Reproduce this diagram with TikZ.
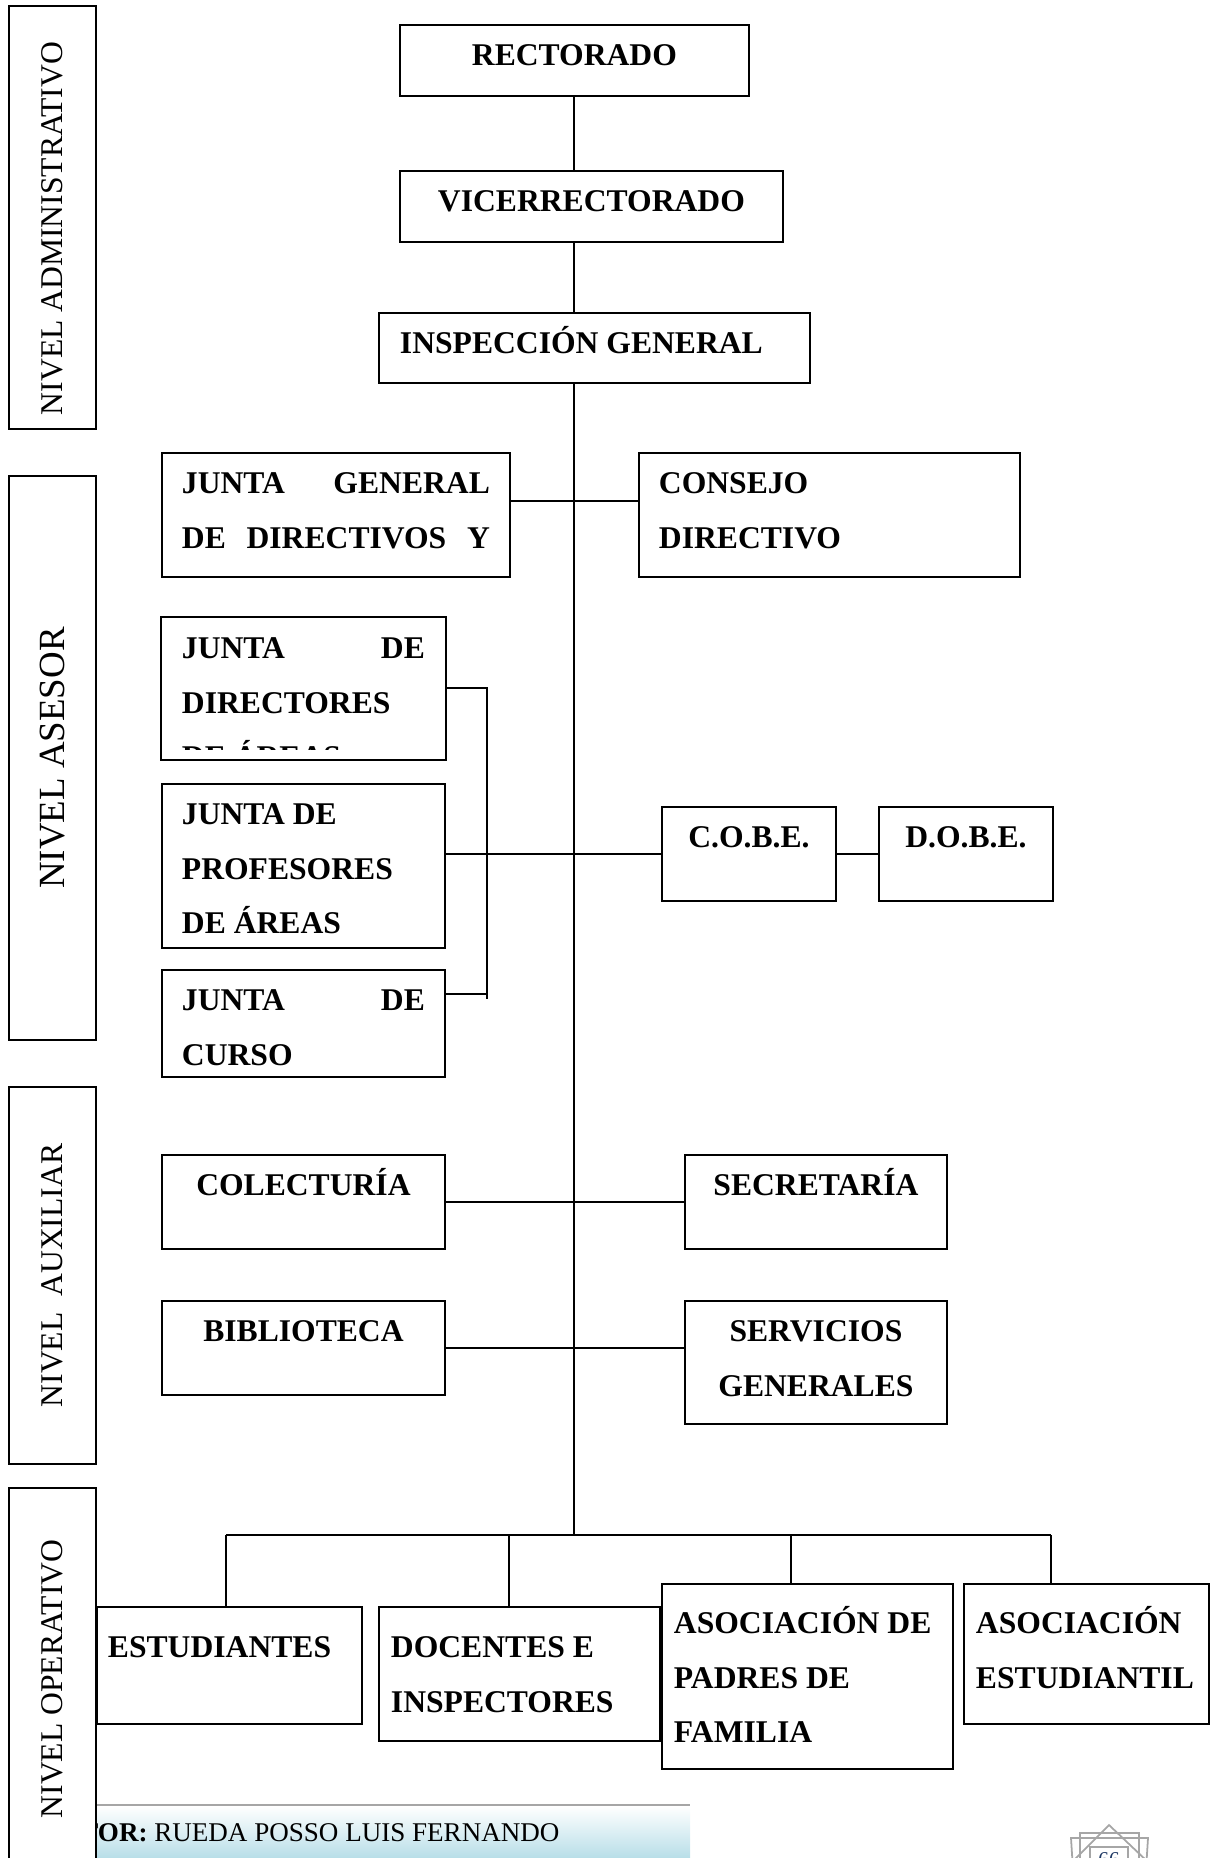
\documentclass[tikz,border=0pt]{standalone}
\usepackage{fontspec}
\setmainfont{Liberation Serif}
\definecolor{footblue}{RGB}{184,222,232}
\definecolor{pagegray}{RGB}{166,166,166}
\definecolor{pageblue}{RGB}{31,56,100}
\newcommand{\boxtext}[4][0.82cm]{\parbox[t][#3][t]{#2}{\raggedright\rule{0pt}{#1}#4}}

\begin{document}
\begin{tikzpicture}[x=0.02cm, y=-0.02cm,
  orgbox/.style={draw, line width=1.1pt, anchor=north west, inner xsep=0.4cm, inner ysep=0pt,
    font=\bfseries\fontsize{18}{31}\selectfont},
  level/.style={draw, fill=white, line width=1.1pt, rotate=90, minimum height=1.74cm,
    inner sep=0pt, font=\fontsize{18}{22}\selectfont},
  link/.style={line width=1.1pt}]
\useasboundingbox (0,0) rectangle (1213,1858);

% Footer
\shade[top color=white, bottom color=footblue] (96,1806) rectangle (690,1858);
\draw[pagegray, line width=1.2pt] (96,1805) -- (690,1805);
\node[anchor=base west, inner sep=0pt, font=\fontsize{15.4}{18}\selectfont] (autor) at (41,1841)
  {\textbf{AUTOR:} RUEDA POSSO LUIS FERNANDO};

% Page number
\draw[pagegray, line width=1pt] (1072,1862) -- (1109,1825) -- (1148,1862);
\draw[pagegray, line width=1pt] (1080,1870) -- (1080,1833) -- (1139,1833) -- (1139,1870);
\draw[pagegray, line width=1pt] (1073,1870) -- (1071,1838) -- (1148,1838) -- (1146,1870);
\draw[pagegray, line width=1pt] (1090,1870) -- (1090,1847) -- (1128,1847) -- (1128,1870);
\node[anchor=base, inner sep=0pt, text=pageblue, font=\fontsize{12}{14}\selectfont] (pagenum) at (1109,1866) {66};

% Levels
\node[level, minimum width=8.46cm] (nadm) at (52.5,217.5) {NIVEL ADMINISTRATIVO\hspace*{0.44cm}};
\node[level, minimum width=11.28cm, font=\fontsize{21}{25}\selectfont] (nase) at (52.5,758) {NIVEL ASESOR};
\node[level, minimum width=7.54cm] (naux) at (52.5,1275.5) {NIVEL~~AUXILIAR};
\node[level, minimum width=7.64cm] (nope) at (52.5,1679) {NIVEL OPERATIVO};

% Administrative
\node[orgbox, inner xsep=0pt] (rect) at (399,24) {\boxtext{6.98cm}{1.42cm}{\centering RECTORADO}};
\node[orgbox, inner xsep=0pt] (vice) at (399,170) {\boxtext{7.66cm}{1.42cm}{\centering VICERRECTORADO}};
\node[orgbox, inner xsep=0.42cm] (insp) at (378,312) {\boxtext{7.78cm}{1.40cm}{INSPECCIÓN GENERAL}};

% Advisory
\node[orgbox] (jgen) at (161,452) {\boxtext{6.16cm}{2.48cm}{JUNTA\hfill GENERAL\\ DE\hfill DIRECTIVOS\hfill Y}};
\node[orgbox] (cons) at (638,452) {\boxtext{6.82cm}{2.48cm}{CONSEJO\\ DIRECTIVO}};
\begin{scope}
  \clip (161,617) rectangle (444,749);
  \node[orgbox, draw=none] (jdir) at (161,617) {\boxtext{4.86cm}{2.82cm}{JUNTA\hfill DE\\ DIRECTORES\\ DE~ÁREAS}};
\end{scope}
\draw[line width=1.1pt] (jdir.north west) rectangle (jdir.south east);
\node[orgbox] (jprof) at (161,783) {\boxtext{4.86cm}{3.28cm}{JUNTA~DE\\ PROFESORES\\ DE~ÁREAS}};
\node[orgbox] (jcur) at (161,969) {\boxtext{4.86cm}{2.14cm}{JUNTA\hfill DE\\ CURSO}};
\node[orgbox, inner xsep=0pt] (cobe) at (661,806) {\boxtext{3.48cm}{1.88cm}{\centering C.O.B.E.}};
\node[orgbox, inner xsep=0pt] (dobe) at (878,806) {\boxtext{3.48cm}{1.88cm}{\centering D.O.B.E.}};

% Auxiliary
\node[orgbox, inner xsep=0pt] (colec) at (161,1154) {\boxtext{5.66cm}{1.88cm}{\centering COLECTURÍA}};
\node[orgbox, inner xsep=0pt] (secr) at (684,1154) {\boxtext{5.24cm}{1.88cm}{\centering SECRETARÍA}};
\node[orgbox, inner xsep=0pt] (bibl) at (161,1300) {\boxtext{5.66cm}{1.88cm}{\centering BIBLIOTECA}};
\node[orgbox, inner xsep=0pt] (serv) at (684,1300) {\boxtext{5.24cm}{2.46cm}{\centering SERVICIOS\\ GENERALES}};

% Operative
\node[orgbox, inner xsep=0.22cm] (est) at (96,1606) {\boxtext[1.02cm]{4.86cm}{2.34cm}{ESTUDIANTES}};
\node[orgbox, inner xsep=0.24cm] (doc) at (378,1606) {\boxtext[1.02cm]{5.14cm}{2.68cm}{DOCENTES~E\\ INSPECTORES}};
\node[orgbox, inner xsep=0.24cm] (apad) at (661,1583) {\boxtext[1.0cm]{5.34cm}{3.70cm}{ASOCIACIÓN~DE\\ PADRES~DE\\ FAMILIA}};
\node[orgbox, inner xsep=0.24cm] (aest) at (963,1583) {\boxtext[1.0cm]{4.42cm}{2.80cm}{ASOCIACIÓN\\ ESTUDIANTIL}};

% Trunk
\coordinate (b1) at (226,1535);
\coordinate (b2) at (509,1535);
\coordinate (b3) at (791,1535);
\coordinate (b4) at (1051,1535);
\draw[link] (rect.south) -- (rect.south |- vice.north);
\draw[link] (rect.south |- vice.south) -- (rect.south |- insp.north);
\draw[link] (rect.south |- insp.south) -- (rect.south |- b1);

% Side links
\draw[link] ([yshift=0.28cm]jgen.east) -- ([yshift=0.28cm]cons.west);
\coordinate (brk) at (487,999);
\draw[link] (jdir.east) -| (brk);
\draw[link] ([yshift=0.59cm]jcur.east) -- ([yshift=0.59cm]jcur.east -| brk);
\draw[link] (jprof.east |- cobe.west) -- (cobe.west);
\draw[link] (cobe) -- (dobe);
\draw[link] (colec) -- (secr);
\draw[link] (bibl.east) -- (bibl.east -| serv.west);

% Bus
\draw[link] (b1) -- (b4);
\draw[link] (b1) -- (b1 |- est.north);
\draw[link] (b2) -- (b2 |- doc.north);
\draw[link] (b3) -- (b3 |- apad.north);
\draw[link] (b4) -- (b4 |- aest.north);

\end{tikzpicture}
\end{document}
